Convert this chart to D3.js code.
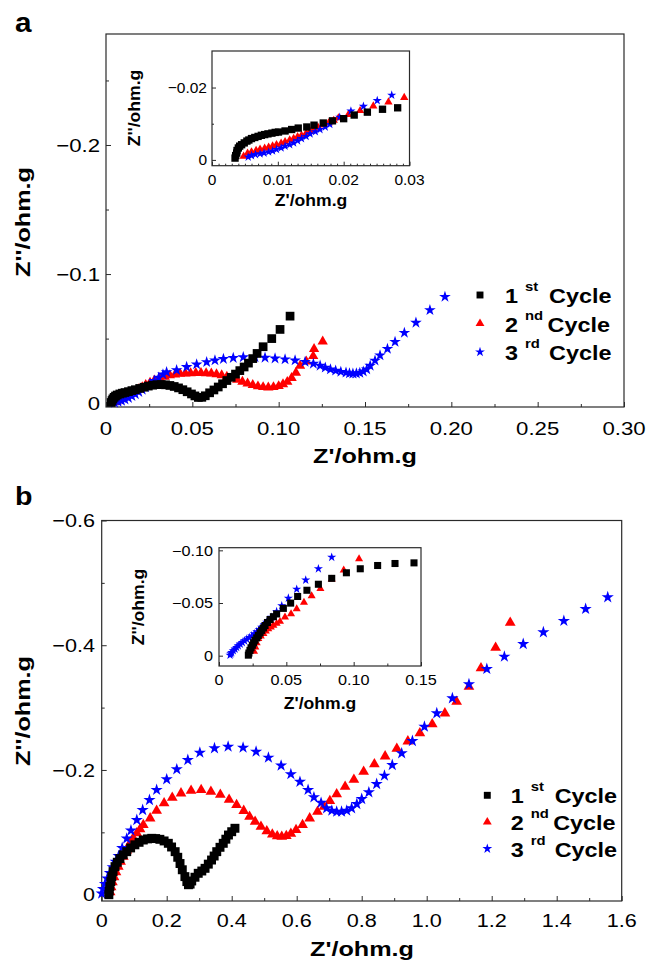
<!DOCTYPE html>
<html>
<head>
<meta charset="utf-8">
<script src="https://cdn.jsdelivr.net/npm/d3@7"></script>
<style>
body { margin: 0; background: #fff; }
text { font-family: "Liberation Sans", Arial, Helvetica, sans-serif; }
</style>
</head>
<body>
<div id="chart"></div>
<script>
// ---- panel a, main plot: [Z', Z''] in ohm.g
const a1 = [[0.0030,-0.0005],[0.0035,-0.0020],[0.0040,-0.0033],[0.0047,-0.0045],[0.0055,-0.0055],[0.0065,-0.0063],[0.0080,-0.0071],[0.0095,-0.0077],[0.0110,-0.0082],[0.0130,-0.0089],[0.0150,-0.0097],[0.0170,-0.0104],[0.0195,-0.0114],[0.0220,-0.0123],[0.0245,-0.0132],[0.0270,-0.0139],[0.0295,-0.0143],[0.0320,-0.0144],[0.0345,-0.0142],[0.0370,-0.0137],[0.0395,-0.0129],[0.0420,-0.0118],[0.0445,-0.0104],[0.0470,-0.0088],[0.0495,-0.0071],[0.0515,-0.0056],[0.0535,-0.0044],[0.0555,-0.0045],[0.0575,-0.0057],[0.0600,-0.0080],[0.0625,-0.0102],[0.0650,-0.0125],[0.0675,-0.0150],[0.0700,-0.0175],[0.0725,-0.0200],[0.0750,-0.0225],[0.0775,-0.0252],[0.0800,-0.0280],[0.0825,-0.0310],[0.0850,-0.0345],[0.0875,-0.0385],[0.0910,-0.0437],[0.0960,-0.0500],[0.1008,-0.0571],[0.1066,-0.0674]];
const a2 = [[0.0060,-0.0008],[0.0075,-0.0022],[0.0090,-0.0033],[0.0110,-0.0047],[0.0130,-0.0062],[0.0150,-0.0077],[0.0170,-0.0092],[0.0190,-0.0108],[0.0210,-0.0124],[0.0230,-0.0140],[0.0255,-0.0158],[0.0280,-0.0175],[0.0310,-0.0192],[0.0340,-0.0205],[0.0370,-0.0215],[0.0400,-0.0222],[0.0430,-0.0227],[0.0460,-0.0230],[0.0490,-0.0232],[0.0520,-0.0233],[0.0550,-0.0233],[0.0580,-0.0232],[0.0610,-0.0229],[0.0640,-0.0224],[0.0670,-0.0216],[0.0700,-0.0205],[0.0730,-0.0193],[0.0760,-0.0180],[0.0790,-0.0166],[0.0820,-0.0152],[0.0850,-0.0140],[0.0880,-0.0130],[0.0910,-0.0124],[0.0940,-0.0121],[0.0970,-0.0124],[0.1000,-0.0132],[0.1025,-0.0146],[0.1050,-0.0165],[0.1075,-0.0195],[0.1100,-0.0235],[0.1124,-0.0290],[0.1160,-0.0322],[0.1200,-0.0364],[0.1205,-0.0419],[0.1255,-0.0477]];
const a3 = [[0.0050,-0.0003],[0.0070,-0.0010],[0.0090,-0.0018],[0.0110,-0.0028],[0.0130,-0.0040],[0.0150,-0.0054],[0.0170,-0.0069],[0.0190,-0.0086],[0.0210,-0.0104],[0.0230,-0.0123],[0.0255,-0.0147],[0.0280,-0.0172],[0.0305,-0.0197],[0.0330,-0.0222],[0.0351,-0.0240],[0.0409,-0.0256],[0.0467,-0.0280],[0.0525,-0.0300],[0.0583,-0.0318],[0.0631,-0.0331],[0.0680,-0.0342],[0.0737,-0.0350],[0.0795,-0.0356],[0.0863,-0.0356],[0.0921,-0.0352],[0.0979,-0.0346],[0.1037,-0.0339],[0.1095,-0.0331],[0.1153,-0.0320],[0.1201,-0.0305],[0.1240,-0.0290],[0.1270,-0.0275],[0.1300,-0.0262],[0.1330,-0.0252],[0.1360,-0.0243],[0.1390,-0.0236],[0.1410,-0.0231],[0.1430,-0.0229],[0.1450,-0.0230],[0.1470,-0.0235],[0.1490,-0.0245],[0.1510,-0.0262],[0.1530,-0.0290],[0.1558,-0.0330],[0.1587,-0.0370],[0.1630,-0.0421],[0.1674,-0.0475],[0.1728,-0.0545],[0.1795,-0.0623],[0.1876,-0.0721],[0.1963,-0.0824]];

// ---- panel a, inset
const ai1 = [[0.0035,-0.0005],[0.0036,-0.0012],[0.00375,-0.0019],[0.0038,-0.0026],[0.0040,-0.0033],[0.0042,-0.0038],[0.0045,-0.0042],[0.0049,-0.0047],[0.0053,-0.0052],[0.0056,-0.0055],[0.0060,-0.0059],[0.0065,-0.0062],[0.0070,-0.0065],[0.0075,-0.0068],[0.0080,-0.0070],[0.0085,-0.0072],[0.0091,-0.0074],[0.0096,-0.0076],[0.0101,-0.0077],[0.0111,-0.0080],[0.0121,-0.0084],[0.0131,-0.0088],[0.0144,-0.0091],[0.0155,-0.0096],[0.0169,-0.0102],[0.0183,-0.0108],[0.0200,-0.0114],[0.0216,-0.0124],[0.0236,-0.0132],[0.0259,-0.0140],[0.0282,-0.0144]];
const ai2 = [[0.0048,-0.0010],[0.0054,-0.0018],[0.0060,-0.0022],[0.0067,-0.0026],[0.0073,-0.0029],[0.0080,-0.0032],[0.0086,-0.0035],[0.0092,-0.0038],[0.0098,-0.0042],[0.0105,-0.0046],[0.0111,-0.0050],[0.0118,-0.0055],[0.0124,-0.0059],[0.0130,-0.0064],[0.0136,-0.0068],[0.0143,-0.0074],[0.0149,-0.0079],[0.0155,-0.0085],[0.0161,-0.0090],[0.0169,-0.0096],[0.0177,-0.0102],[0.0185,-0.0109],[0.0192,-0.0116],[0.0207,-0.0125],[0.0225,-0.0136],[0.0245,-0.0149],[0.0268,-0.0160],[0.0292,-0.0172]];
const ai3 = [[0.0055,-0.0008],[0.0060,-0.0012],[0.0066,-0.0015],[0.0073,-0.0017],[0.0079,-0.0019],[0.0086,-0.0022],[0.0092,-0.0025],[0.0098,-0.0029],[0.0105,-0.0033],[0.0111,-0.0038],[0.0118,-0.0042],[0.0124,-0.0047],[0.0130,-0.0053],[0.0136,-0.0059],[0.0143,-0.0065],[0.0149,-0.0072],[0.0157,-0.0078],[0.0164,-0.0084],[0.0172,-0.0091],[0.0179,-0.0098],[0.0194,-0.0118],[0.0211,-0.0135],[0.0230,-0.0148],[0.0251,-0.0164],[0.0273,-0.0179]];

// ---- panel b, main plot
const b1 = [[0.022,0.000],[0.023,-0.006],[0.025,-0.013],[0.028,-0.021],[0.031,-0.029],[0.035,-0.037],[0.041,-0.045],[0.048,-0.052],[0.056,-0.058],[0.066,-0.064],[0.077,-0.069],[0.089,-0.075],[0.102,-0.080],[0.115,-0.084],[0.128,-0.0877],[0.141,-0.0895],[0.154,-0.0904],[0.166,-0.0900],[0.179,-0.0888],[0.192,-0.0862],[0.205,-0.0824],[0.215,-0.0765],[0.226,-0.069],[0.234,-0.060],[0.241,-0.050],[0.248,-0.040],[0.256,-0.029],[0.262,-0.021],[0.267,-0.016],[0.272,-0.017],[0.277,-0.022],[0.287,-0.028],[0.297,-0.0343],[0.308,-0.038],[0.318,-0.0423],[0.328,-0.049],[0.338,-0.0556],[0.346,-0.062],[0.354,-0.069],[0.364,-0.076],[0.374,-0.0824],[0.382,-0.089],[0.390,-0.0957],[0.400,-0.101],[0.410,-0.1065]];
const b2 = [[0.026,-0.004],[0.029,-0.012],[0.033,-0.020],[0.038,-0.028],[0.044,-0.036],[0.051,-0.045],[0.058,-0.053],[0.0665,-0.061],[0.077,-0.071],[0.087,-0.0824],[0.097,-0.091],[0.108,-0.0985],[0.118,-0.105],[0.128,-0.1118],[0.149,-0.1225],[0.169,-0.1347],[0.192,-0.1466],[0.217,-0.1556],[0.244,-0.1626],[0.275,-0.1668],[0.306,-0.1679],[0.336,-0.1652],[0.365,-0.1605],[0.392,-0.1525],[0.415,-0.1440],[0.437,-0.1345],[0.455,-0.1252],[0.472,-0.1171],[0.490,-0.1092],[0.508,-0.1020],[0.525,-0.0965],[0.540,-0.0938],[0.554,-0.0930],[0.568,-0.0942],[0.582,-0.0980],[0.598,-0.1038],[0.618,-0.1120],[0.640,-0.1225],[0.664,-0.1331],[0.684,-0.1411],[0.702,-0.1505],[0.723,-0.1612],[0.749,-0.1732],[0.776,-0.1845],[0.806,-0.1973],[0.839,-0.2093],[0.872,-0.2219],[0.908,-0.2342],[0.942,-0.2460],[0.979,-0.2589],[1.017,-0.2733],[1.056,-0.2909],[1.092,-0.3095],[1.130,-0.3336],[1.167,-0.3631],[1.212,-0.3962],[1.257,-0.4362]];
const b3 = [[0.000,-0.002],[0.004,-0.009],[0.010,-0.017],[0.017,-0.026],[0.025,-0.035],[0.034,-0.044],[0.043,-0.053],[0.052,-0.062],[0.063,-0.075],[0.077,-0.090],[0.090,-0.103],[0.108,-0.1198],[0.126,-0.1358],[0.147,-0.1519],[0.169,-0.168],[0.200,-0.185],[0.231,-0.201],[0.265,-0.216],[0.302,-0.2278],[0.347,-0.2348],[0.389,-0.2374],[0.435,-0.2358],[0.475,-0.2294],[0.513,-0.2198],[0.552,-0.2070],[0.582,-0.1933],[0.610,-0.1810],[0.635,-0.1680],[0.653,-0.1562],[0.675,-0.1473],[0.692,-0.1386],[0.708,-0.1348],[0.723,-0.1331],[0.738,-0.1331],[0.754,-0.1348],[0.769,-0.1386],[0.785,-0.1455],[0.800,-0.1535],[0.822,-0.1642],[0.846,-0.1775],[0.870,-0.1909],[0.894,-0.2080],[0.923,-0.2267],[0.956,-0.2465],[0.993,-0.2694],[1.031,-0.2909],[1.079,-0.3150],[1.130,-0.3375],[1.185,-0.3620],[1.239,-0.3817],[1.297,-0.4020],[1.359,-0.4208],[1.422,-0.4390],[1.489,-0.4582],[1.557,-0.4770]];

// ---- panel b, inset
const bi1 = [[0.0218,-0.0005],[0.0222,-0.0025],[0.0230,-0.0050],[0.0238,-0.0075],[0.0248,-0.0099],[0.0257,-0.0122],[0.0267,-0.0146],[0.0280,-0.0169],[0.0292,-0.0192],[0.0305,-0.0216],[0.0317,-0.0240],[0.0330,-0.0263],[0.0342,-0.0286],[0.0360,-0.0315],[0.0379,-0.0343],[0.0404,-0.0370],[0.0428,-0.0396],[0.0478,-0.0449],[0.0532,-0.0499],[0.0584,-0.0562],[0.0653,-0.0621],[0.0738,-0.0678],[0.0837,-0.0734],[0.0946,-0.0787],[0.1049,-0.0825],[0.1178,-0.0856],[0.1307,-0.0875],[0.1448,-0.0881]];
const bi2 = [[0.0260,-0.0040],[0.0270,-0.0080],[0.0280,-0.0120],[0.0292,-0.0161],[0.0310,-0.0185],[0.0330,-0.0208],[0.0348,-0.0232],[0.0366,-0.0255],[0.0385,-0.0271],[0.0404,-0.0286],[0.0428,-0.0305],[0.0453,-0.0324],[0.0490,-0.0365],[0.0535,-0.0396],[0.0577,-0.0443],[0.0631,-0.0505],[0.0688,-0.0568],[0.0753,-0.0637],[0.0837,-0.0725],[0.0926,-0.0812],[0.1040,-0.0918]];
const bi3 = [[0.0082,-0.0005],[0.0088,-0.0018],[0.0094,-0.0030],[0.0106,-0.0047],[0.0119,-0.0063],[0.0131,-0.0078],[0.0143,-0.0094],[0.0158,-0.0110],[0.0173,-0.0125],[0.0190,-0.0141],[0.0206,-0.0157],[0.0225,-0.0172],[0.0243,-0.0188],[0.0262,-0.0208],[0.0281,-0.0228],[0.0299,-0.0249],[0.0317,-0.0270],[0.0336,-0.0293],[0.0354,-0.0317],[0.0391,-0.0364],[0.0428,-0.0418],[0.0466,-0.0474],[0.0515,-0.0546],[0.0577,-0.0631],[0.0644,-0.0718],[0.0738,-0.0825],[0.0837,-0.0934]];

// ticks
const aXTicks = [0, 0.05, 0.10, 0.15, 0.20, 0.25, 0.30];
const aXLabels = ["0", "0.05", "0.10", "0.15", "0.20", "0.25", "0.30"];
const aYTicks = [0, -0.1, -0.2];
const aYLabels = ["0", "\u22120.1", "\u22120.2"];
const aiXTicks = [0, 0.01, 0.02, 0.03];
const aiXLabels = ["0", "0.01", "0.02", "0.03"];
const aiYTicks = [0, -0.02];
const aiYLabels = ["0", "\u22120.02"];
const bXTicks = [0, 0.2, 0.4, 0.6, 0.8, 1.0, 1.2, 1.4, 1.6];
const bXLabels = ["0", "0.2", "0.4", "0.6", "0.8", "1.0", "1.2", "1.4", "1.6"];
const bYTicks = [0, -0.2, -0.4, -0.6];
const bYLabels = ["0", "\u22120.2", "\u22120.4", "\u22120.6"];
const biXTicks = [0, 0.05, 0.10, 0.15];
const biXLabels = ["0", "0.05", "0.10", "0.15"];
const biYTicks = [0, -0.05, -0.10];
const biYLabels = ["0", "\u22120.05", "\u22120.10"];

const legendNums = ["1", "2", "3"];
const legendSups = ["st", "nd", "rd"];
const legendWord = "Cycle";
const axisTitleX = "Z'/ohm.g";
const axisTitleY = "Z''/ohm.g";

const colors = ["#000000", "#ff0000", "#0000ff"];
const shapes = [d3.symbolSquare, d3.symbolTriangle, d3.symbolStar];

const svg = d3.select("#chart").append("svg")
    .attr("width", 649)
    .attr("height", 961)
    .style("background", "#fff");

// text, stretched a bit horizontally like the original
function txt(g, x, y, s, o) {
  return g.append("text")
    .attr("transform", `translate(${x},${y})` + (o.rot ? " rotate(-90)" : "") + ` scale(${o.sx || 1},1)`)
    .attr("text-anchor", o.anchor || "start")
    .attr("font-size", o.size)
    .attr("font-weight", o.bold ? "bold" : "normal")
    .attr("fill", "#000")
    .text(s);
}

function panel(p) {
  const g = svg.append("g");
  const x = d3.scaleLinear().domain(p.xd).range(p.xr);
  const y = d3.scaleLinear().domain(p.yd).range(p.yr);
  const [l, r] = p.xr, [b, t] = p.yr;

  g.append("rect")
    .attr("x", l).attr("y", t).attr("width", r - l).attr("height", b - t)
    .attr("fill", p.fill || "none")
    .attr("stroke", "#2a2a2a").attr("stroke-width", 1.2);

  // major + minor ticks, pointing inward
  const ax = [
    [d3.axisBottom(x).tickValues(p.xt).tickSize(-p.tl), `translate(0,${b})`],
    [d3.axisBottom(x).tickValues(p.xm).tickSize(-p.tm), `translate(0,${b})`],
    [d3.axisLeft(y).tickValues(p.yt).tickSize(-p.tl), `translate(${l},0)`],
    [d3.axisLeft(y).tickValues(p.ym).tickSize(-p.tm), `translate(${l},0)`]
  ];
  ax.forEach(([a, tr]) => {
    const ga = g.append("g").attr("transform", tr).call(a.tickFormat("").tickSizeOuter(0));
    ga.select(".domain").remove();
    ga.selectAll("line").attr("stroke", "#2a2a2a").attr("stroke-width", 1);
  });

  p.xt.forEach((v, i) => txt(g, x(v), b + p.xlOff, p.xl[i], {size: p.fs, anchor: "middle", sx: p.sx}));
  p.yt.forEach((v, i) => txt(g, l - p.ylOff, y(v) + p.fs * 0.36, p.yl[i], {size: p.fs, anchor: "end", sx: p.sx}));

  txt(g, p.xTitle[0], p.xTitle[1], axisTitleX, {size: p.tfs, bold: true, anchor: "middle", sx: p.tsx});
  txt(g, p.yTitle[0], p.yTitle[1], axisTitleY, {size: p.tfs, bold: true, anchor: "middle", sx: p.tsx, rot: true});

  p.order.forEach(k => {
    g.append("g").selectAll("path")
      .data(p.series[k])
      .enter().append("path")
      .attr("d", d3.symbol().type(shapes[k]).size(p.ms[k]))
      .attr("transform", e => `translate(${x(e[0])},${y(e[1])})`)
      .attr("fill", colors[k]);
  });
}

function legend(lx, ly, dy, tx) {
  const g = svg.append("g");
  const ms = [48, 34, 30];
  legendNums.forEach((n, i) => {
    const yy = ly + i * dy;
    g.append("path")
      .attr("d", d3.symbol().type(shapes[i]).size(ms[i]))
      .attr("transform", `translate(${lx},${yy - 8})`)
      .attr("fill", colors[i]);
    txt(g, tx, yy, n, {size: 19.5, bold: true, sx: 1.2});
    txt(g, tx + 20, yy - 12, legendSups[i], {size: 13.5, bold: true, sx: 1.1});
    txt(g, tx + (i == 1 ? 42.5 : 44), yy, legendWord, {size: 19.5, bold: true, sx: 1.2});
  });
}

// panel labels
txt(svg, 15, 31.5, "a", {size: 27, bold: true, sx: 1.1});
txt(svg, 15, 505, "b", {size: 26, bold: true, sx: 1.1});

// panel a
panel({
  xd: [0, 0.30], xr: [106, 624], yd: [0.003, -0.286], yr: [407, 34],
  xt: aXTicks, xl: aXLabels, yt: aYTicks, yl: aYLabels,
  xm: [0.025, 0.075, 0.125, 0.175, 0.225, 0.275], ym: [-0.05, -0.15, -0.25],
  tl: 5, tm: 3, fs: 18.5, sx: 1.2, xlOff: 28, ylOff: 6,
  tfs: 21, tsx: 1.2, xTitle: [365, 463], yTitle: [30, 222],
  series: [a1, a2, a3], order: [1, 2, 0], ms: [76, 46, 42]
});
panel({
  xd: [0, 0.03], xr: [212, 409.5], yd: [0.0016, -0.0301], yr: [165.7, 51], fill: "#fff",
  xt: aiXTicks, xl: aiXLabels, yt: aiYTicks, yl: aiYLabels,
  xm: d3.range(1, 30).filter(v => v % 10).map(v => v / 1000), ym: [-0.01],
  tl: 4, tm: 2, fs: 15.5, sx: 1.0, xlOff: 19.3, ylOff: 5,
  tfs: 16, tsx: 1.1, xTitle: [311, 206], yTitle: [140, 108],
  series: [ai1, ai2, ai3], order: [1, 2, 0], ms: [54, 30, 26]
});
legend(480, 303, 28.5, 505);

// panel b
panel({
  xd: [0, 1.6], xr: [101.7, 621.7], yd: [0.0101, -0.6], yr: [901, 520.5],
  xt: bXTicks, xl: bXLabels, yt: bYTicks, yl: bYLabels,
  xm: [0.1, 0.3, 0.5, 0.7, 0.9, 1.1, 1.3, 1.5], ym: [-0.1, -0.3, -0.5],
  tl: 5, tm: 3, fs: 18.5, sx: 1.17, xlOff: 26, ylOff: 6.7,
  tfs: 21, tsx: 1.2, xTitle: [362, 956], yTitle: [30, 711],
  series: [b1, b2, b3], order: [1, 2, 0], ms: [80, 50, 46]
});
panel({
  xd: [0, 0.15], xr: [219, 421], yd: [0.0098, -0.1025], yr: [666, 547.7], fill: "#fff",
  xt: biXTicks, xl: biXLabels, yt: biYTicks, yl: biYLabels,
  xm: [0.025, 0.075, 0.125], ym: [],
  tl: 4, tm: 2.5, fs: 14.5, sx: 1.12, xlOff: 19, ylOff: 6,
  tfs: 16, tsx: 1.1, xTitle: [320, 709], yTitle: [144, 607],
  series: [bi1, bi2, bi3], order: [1, 2, 0], ms: [50, 28, 26]
});
legend(487.3, 803.3, 26.7, 510.7);
</script>
</body>
</html>
